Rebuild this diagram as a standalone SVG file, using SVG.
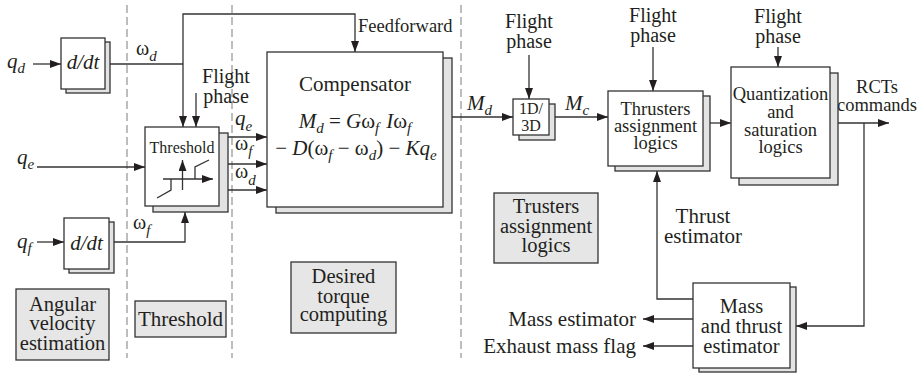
<svg xmlns="http://www.w3.org/2000/svg" width="920" height="373" viewBox="0 0 920 373" font-family="'Liberation Serif', 'DejaVu Serif', serif">
<style>
text{font-family:'Liberation Serif','DejaVu Serif',serif;fill:#231f20}
.it{font-style:italic}
.f16{font-size:16px}.f18{font-size:18.5px}.f20{font-size:20px}.f21{font-size:21px}.g{font-size:20.5px}
.sub{font-size:15px;font-style:italic}
.mid{text-anchor:middle}
.front{fill:#fff;stroke:#333;stroke-width:1.3}
.shadow{fill:#e3e3e3;stroke:#333;stroke-width:1.3}
.gray{fill:#e6e6e6;stroke:#333;stroke-width:1.3}
.ln{fill:none;stroke:#333;stroke-width:1.3}
.arr{marker-end:url(#ah)}
.dash{stroke:#bdbdbd;stroke-width:2;stroke-dasharray:8 4;fill:none}
</style>
<defs>
<marker id="ah" markerUnits="userSpaceOnUse" markerWidth="11" markerHeight="8" refX="11" refY="4" orient="auto">
<path d="M0,0 L11,4 L0,8 z" fill="#231f20"/>
</marker>
</defs>
<rect width="920" height="373" fill="#fff"/>

<g id="separators">
<line class="dash" x1="127" y1="5" x2="127" y2="358"/>
<line class="dash" x1="232" y1="5" x2="232" y2="358"/>
<line class="dash" x1="461" y1="5" x2="461" y2="358"/>
</g>

<g id="connectors">
<path class="ln arr" d="M33,64 H61"/>
<path class="ln" d="M110,64 H183"/>
<path class="ln arr" d="M183,64 V127"/>
<path class="ln arr" d="M183,64 V14 H355 V52"/>
<path class="ln arr" d="M196,93 V127"/>
<path class="ln arr" d="M37,167 H145"/>
<path class="ln arr" d="M37,242 H64"/>
<path class="ln arr" d="M114,242 H185 V212"/>
<path class="ln arr" d="M228,137 H267"/>
<path class="ln arr" d="M228,164 H267"/>
<path class="ln arr" d="M228,190 H267"/>
<path class="ln arr" d="M452,117 H513"/>
<path class="ln arr" d="M529,55 V99"/>
<path class="ln arr" d="M555,117 H608"/>
<path class="ln arr" d="M653,47 V91"/>
<path class="ln arr" d="M710,123 H731"/>
<path class="ln arr" d="M778,47 V67"/>
<path class="ln arr" d="M838,123 H889"/>
<path class="ln arr" d="M864,123 V326 H796"/>
<path class="ln arr" d="M693,299 H657 V171"/>
<path class="ln arr" d="M693,319 H643"/>
<path class="ln arr" d="M693,346 H643"/>
</g>

<g id="inputs">
<text x="7" y="68" class="f21 it">q<tspan class="sub" dy="5">d</tspan></text>
<text x="17" y="164" class="f21 it">q<tspan class="sub" dy="5">e</tspan></text>
<text x="17" y="248" class="f21 it">q<tspan class="sub" dy="5">f</tspan></text>
</g>

<g id="ddt1">
<rect class="shadow" x="66" y="42" width="44" height="51"/>
<rect class="front" x="61" y="38" width="44" height="51"/>
<text x="83" y="69" class="f21 it mid">d/dt</text>
</g>

<g id="ddt2">
<rect class="shadow" x="69" y="222" width="45" height="51"/>
<rect class="front" x="64" y="218" width="45" height="51"/>
<text x="86.5" y="250" class="f21 it mid">d/dt</text>
</g>

<g id="labels-left">
<text x="136" y="55" class="f20">ω<tspan class="sub" dy="6">d</tspan></text>
<text x="133" y="229" class="f20">ω<tspan class="sub" dy="6">f</tspan></text>
<text x="226" y="83" class="f20 mid">Flight</text>
<text x="226" y="103" class="f20 mid">phase</text>
<text x="235" y="125" class="f21 it">q<tspan class="sub" dy="6">e</tspan></text>
<text x="235" y="150" class="f20">ω<tspan class="sub" dy="6">f</tspan></text>
<text x="235" y="178" class="f20">ω<tspan class="sub" dy="7">d</tspan></text>
<text x="358" y="32" class="f18">Feedforward</text>
</g>

<g id="threshold">
<rect class="shadow" x="153" y="133" width="75" height="79"/>
<rect class="front" x="145" y="127" width="74" height="79"/>
<text x="182" y="153" class="f16 mid">Threshold</text>
<path class="ln arr" d="M182.5,190 V160"/>
<path class="ln arr" d="M163,179 H213"/>
<path class="ln" d="M157,198 L171,190 V179 M195,179 V167 L209,160"/>
</g>

<g id="compensator">
<rect class="shadow" x="276" y="58" width="176" height="155"/>
<rect class="front" x="267" y="52" width="176" height="155"/>
<text x="355" y="91" class="f21 mid">Compensator</text>
<text x="355" y="128" class="f21 mid"><tspan class="it">M</tspan><tspan class="sub" dy="5">d</tspan><tspan dy="-5"> = </tspan><tspan class="it">G</tspan>ω<tspan class="sub" dy="5">f</tspan><tspan class="it" dy="-5" dx="7">I</tspan>ω<tspan class="sub" dy="5">f</tspan></text>
<text x="356" y="155" class="f21 mid">− <tspan class="it">D</tspan>(ω<tspan class="sub" dy="5">f</tspan><tspan dy="-5"> − ω</tspan><tspan class="sub" dy="5">d</tspan><tspan dy="-5">) − </tspan><tspan class="it">Kq</tspan><tspan class="sub" dy="5">e</tspan></text>
</g>

<g id="labels-mid">
<text x="467" y="110" class="f21 it">M<tspan class="sub" dy="5">d</tspan></text>
<text x="565" y="110" class="f21 it">M<tspan class="sub" dy="5">c</tspan></text>
<text x="529" y="28" class="f20 mid">Flight</text>
<text x="529" y="48" class="f20 mid">phase</text>
<text x="653" y="22" class="f20 mid">Flight</text>
<text x="653" y="42" class="f20 mid">phase</text>
<text x="778" y="23" class="f20 mid">Flight</text>
<text x="778" y="43" class="f20 mid">phase</text>
<text x="877" y="93" class="f18 mid">RCTs</text>
<text x="877" y="111" class="f18 mid">commands</text>
<text x="703" y="223" class="f21 mid">Thrust</text>
<text x="703" y="243" class="f21 mid">estimator</text>
<text x="636" y="326" class="f21" text-anchor="end">Mass estimator</text>
<text x="636" y="353" class="f21" text-anchor="end">Exhaust mass flag</text>
</g>

<g id="dim13">
<rect class="shadow" x="519" y="104" width="36" height="36"/>
<rect class="front" x="513" y="99" width="36" height="36"/>
<text x="531" y="114" class="f16 mid">1D/</text>
<text x="531" y="131" class="f16 mid">3D</text>
</g>

<g id="thrusters">
<rect class="shadow" x="615" y="96" width="95" height="75"/>
<rect class="front" x="608" y="91" width="95" height="75"/>
<text x="655.5" y="115" class="f18 mid">Thrusters</text>
<text x="655.5" y="132" class="f18 mid">assignment</text>
<text x="655.5" y="149" class="f18 mid">logics</text>
</g>

<g id="quantization">
<rect class="shadow" x="739" y="73" width="99" height="112"/>
<rect class="front" x="731" y="67" width="99" height="111"/>
<text x="780.5" y="100" class="f18 mid">Quantization</text>
<text x="780.5" y="118" class="f18 mid">and</text>
<text x="780.5" y="136" class="f18 mid">saturation</text>
<text x="780.5" y="153" class="f18 mid">logics</text>
</g>

<g id="mass">
<rect class="shadow" x="699" y="287" width="97" height="85"/>
<rect class="front" x="693" y="283" width="97" height="85"/>
<text x="741.5" y="313" class="g mid">Mass</text>
<text x="741.5" y="333" class="g mid">and thrust</text>
<text x="741.5" y="353" class="g mid">estimator</text>
</g>

<g id="cap-angular">
<rect class="gray" x="16" y="289" width="93" height="71"/>
<text x="62.5" y="311" class="g mid">Angular</text>
<text x="62.5" y="330" class="g mid">velocity</text>
<text x="62.5" y="350" class="g mid">estimation</text>
</g>

<g id="cap-threshold">
<rect class="gray" x="135" y="301" width="91" height="36"/>
<text x="180.5" y="326" class="f21 mid">Threshold</text>
</g>

<g id="cap-torque">
<rect class="gray" x="291" y="262" width="105" height="71"/>
<text x="343.5" y="283" class="g mid">Desired</text>
<text x="343.5" y="303" class="g mid">torque</text>
<text x="343.5" y="321" class="g mid">computing</text>
</g>

<g id="cap-trusters">
<rect class="gray" x="494" y="193" width="104" height="70"/>
<text x="546" y="213" class="g mid">Trusters</text>
<text x="546" y="233" class="g mid">assignment</text>
<text x="546" y="252" class="g mid">logics</text>
</g>
</svg>
